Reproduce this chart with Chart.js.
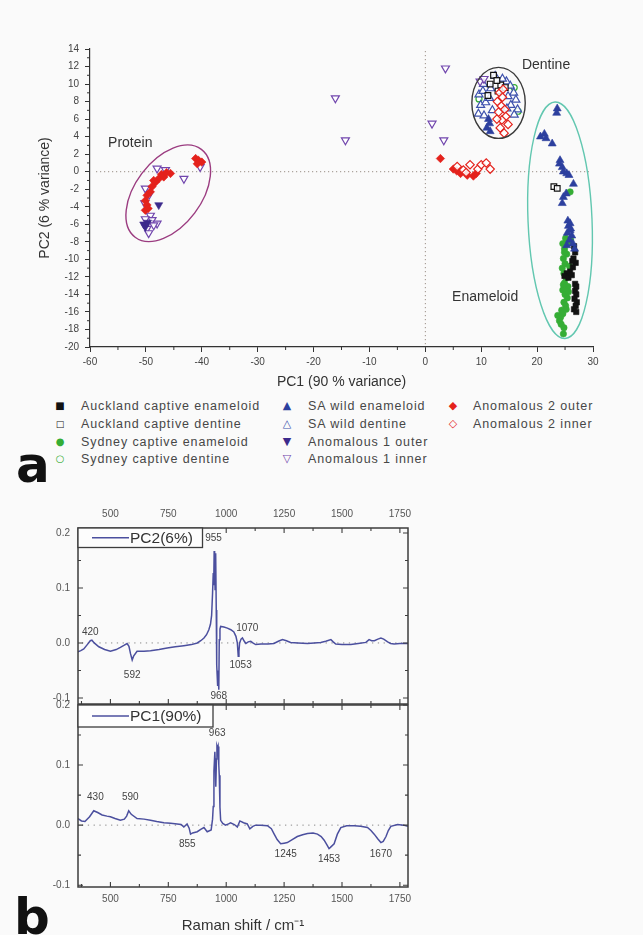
<!DOCTYPE html>
<html><head><meta charset="utf-8">
<script src="https://cdn.jsdelivr.net/npm/chart.js@4.4.0/dist/chart.umd.min.js"></script>
<style>
html,body{margin:0;padding:0;background:#fafafa;}
body{width:643px;height:935px;position:relative;overflow:hidden;font-family:"Liberation Sans",Arial,sans-serif;}
canvas{position:absolute;left:0;}
#c1{top:0;} #c2{top:495px;} #c3{top:700px;}
.leg{position:absolute;font-size:12.5px;letter-spacing:0.9px;color:#474747;white-space:nowrap;line-height:16px;}
.mk{position:absolute;font-family:"DejaVu Sans";font-size:11px;line-height:16px;width:16px;text-align:center;}
.panel{position:absolute;font-weight:bold;font-family:"DejaVu Sans";font-size:50px;line-height:50px;color:#111;}
</style></head><body>
<canvas id="c1" width="643" height="392"></canvas>
<canvas id="c2" width="643" height="215"></canvas>
<canvas id="c3" width="643" height="235"></canvas>
<div class="panel" style="left:16px;top:440px;">a</div>
<div class="panel" style="left:14px;top:892px;">b</div>
<div id="legend"></div>
<script>
// ---------- Scatter (PCA scores) data ----------
const pc1Ticks = [-60,-50,-40,-30,-20,-10,0,10,20,30];
const pc2Ticks = [14,12,10,8,6,4,2,0,-2,-4,-6,-8,-10,-12,-14,-16,-18,-20];

const seriesNames = [
  'Auckland captive enameloid','Auckland captive dentine','Sydney captive enameloid','Sydney captive dentine',
  'SA wild enameloid','SA wild dentine','Anomalous 1 outer','Anomalous 1 inner',
  'Anomalous 2 outer','Anomalous 2 inner'
];

const aklEnamX = [26.6,26.8,26.5,26.9,26.4,25.9,25.3,24.9,25.6,26.2,26.8,27.0,26.7,27.1,26.9,26.6,27.0,26.8,26.3,27.0];
const aklEnamY = [-8.5,-9.2,-9.9,-10.4,-10.9,-11.4,-11.6,-11.9,-12.1,-11.8,-13.6,-14.0,-14.5,-14.9,-15.3,-15.7,-16.0,-12.8,-10.2,-13.1];

const aklDentX = [12.2,11.6,13.5,14.3,11.2,13.0,12.8,23.0,23.6];
const aklDentY = [11.0,10.0,9.9,9.6,8.7,9.2,10.4,-1.7,-1.9];

const sydEnamX = [25.9,25.1,24.6,24.9,25.3,24.7,25.0,24.5,24.8,25.2,24.9,25.5,24.6,25.0,25.4,24.8,25.1,24.4,24.6,24.2,24.0,23.7,24.3,24.8,24.7,24.7,25.6,25.8,24.9,25.2,25.6,26.0];
const sydEnamY = [-2.3,-7.6,-8.2,-8.8,-9.4,-9.9,-10.5,-11.0,-11.6,-12.1,-12.7,-13.1,-13.5,-14.0,-14.4,-14.9,-15.3,-15.8,-16.2,-16.6,-17.0,-16.4,-17.4,-17.8,-18.5,-12.9,-13.7,-10.8,-9.2,-15.7,-8.0,-7.8];

const sydDentX = [9.6,16.6,15.9];
const sydDentY = [8.3,6.9,9.6];

const saEnamX = [11.3,11.5,11.0,11.6,23.6,23.5,20.6,21.3,21.6,22.7,24.1,24.0,24.5,24.7,25.3,25.7,26.5,24.7,25.2,24.5,25.5,25.6,25.9,25.4,26.2,25.8,26.4,25.3,26.7,25.9,26.0];
const saEnamY = [6.0,5.5,5.0,4.6,7.2,6.7,4.0,4.3,3.8,3.2,1.3,0.9,0.5,0.0,-0.2,-0.4,-1.4,-2.9,-2.5,-3.6,-5.6,-6.2,-6.7,-7.0,-7.3,-7.8,-8.2,-8.4,-8.8,-5.9,-6.5];

const saDentX = [9.6,10.3,9.9,10.8,11.5,9.5,10.5,12.0,11.7,14.5,15.2,15.8,14.8,16.2,15.3,16.5,14.6,15.9,13.8,12.5,10.4];
const saDentY = [8.8,9.2,7.6,7.9,8.4,6.6,6.4,7.0,9.5,10.3,9.8,9.0,8.6,8.2,7.6,7.1,7.2,6.5,10.6,10.9,10.0];

const an1OutX = [-47.7,-50.1,-50.4,-49.7];
const an1OutY = [-3.8,-6.3,-6.0,-5.8];

const an1InX = [-16.1,-14.3,3.6,1.2,3.3,9.8,10.5,-40.3,-43.2,-48.0,-46.5,-50.1,-49.4,-50.2,-49.2,-48.9,-48.0,-49.8,-50.1,-49.5,-48.6];
const an1InY = [8.4,3.6,11.8,5.5,3.6,10.3,10.6,0.55,-0.8,0.37,0.2,-1.9,-2.6,-3.6,-5.0,-5.5,-5.9,-6.5,-5.4,-7.0,-6.1];

const an2OutX = [-45.6,-46.8,-47.7,-48.3,-48.9,-49.2,-49.8,-50.1,-49.8,-50.1,-49.6,-47.2,-46.3,-48.6,-41.1,-40.6,-40.0,-40.8,2.7,5.0,5.6,6.3,7.5,8.6,9.1];
const an2OutY = [-0.2,-0.6,-0.8,-1.2,-1.7,-2.3,-2.7,-3.3,-3.8,-4.4,-4.2,-0.3,-0.1,-1.0,1.5,1.3,1.1,0.9,1.5,0.3,0.1,-0.2,-0.4,-0.5,-0.2];

const an2InX = [5.7,6.8,8.0,9.4,10.0,10.9,11.6,7.3,13.3,13.8,12.9,13.6,14.2,13.1,14.4,13.7,14.8,13.4,14.1,12.8,13.9];
const an2InY = [0.6,0.2,0.8,0.3,0.8,1.0,0.3,-0.1,9.0,8.5,8.0,7.5,7.1,6.8,6.3,5.9,5.4,5.0,4.4,6.0,9.4];

const groupLabels = ['Protein','Dentine','Enameloid'];

// ---------- Spectra (loadings) data ----------
const ramanTicks = [500,750,1000,1250,1500,1750];
const loadTicks = [-0.1,0.0,0.1,0.2];

const pc2Shift = [360,372,385,400,413,420,430,450,475,500,
  525,543,560,572,580,587,594,600,615,645,
  673,710,745,780,817,850,875,890,904,915,
  925,932,937,941,944,946,948,950,952,954,
  955,957,958,960,963,965,968,970,973,976,
  990,1005,1020,1033,1042,1048,1052,1055,1058,1064,
  1070,1078,1085,1095,1106,1115,1127,1150,1180,1206,
  1225,1243,1260,1278,1310,1351,1380,1408,1430,1452,
  1462,1473,1500,1538,1570,1603,1617,1628,1640,1655,
  1668,1680,1697,1710,1725,1750,1770,1785];
const pc2Load = [-0.016,-0.014,-0.011,-0.003,0.004,0.005,0.000,-0.007,-0.012,-0.015,
  -0.012,-0.008,-0.004,-0.001,-0.006,-0.020,-0.031,-0.024,-0.015,-0.015,
  -0.014,-0.012,-0.009,-0.007,-0.005,-0.003,0.000,0.004,0.009,0.015,
  0.024,0.034,0.050,0.090,0.127,0.105,0.167,0.140,0.097,0.150,
  0.163,0.060,-0.012,-0.040,-0.078,-0.050,-0.085,0.006,0.025,0.030,
  0.029,0.027,0.024,0.020,0.012,0.000,-0.024,-0.015,0.000,0.007,
  0.009,0.003,-0.001,0.002,0.003,0.000,-0.003,-0.002,-0.002,-0.001,
  0.003,0.006,0.004,0.001,0.000,-0.001,0.000,0.001,0.003,0.006,
  0.002,-0.002,-0.003,-0.003,-0.001,0.001,0.006,0.004,0.004,0.007,
  0.009,0.007,0.002,-0.001,-0.002,-0.001,-0.001,-0.001];

const pc1Shift = [360,375,390,410,428,445,464,485,500,520,
  543,560,570,579,590,615,645,673,700,731,
  760,788,805,817,831,840,846,855,875,890,
  904,912,918,935,941,944,947,951,953,955,
  958,960,963,965,968,970,973,976,985,997,
  1010,1019,1035,1048,1059,1075,1091,1102,1115,1127,
  1150,1178,1195,1206,1220,1235,1250,1264,1285,1307,
  1330,1351,1375,1394,1410,1423,1435,1444,1450,1466,
  1480,1495,1520,1553,1580,1610,1625,1639,1655,1668,
  1678,1690,1700,1711,1740,1765,1785];
const pc1Load = [0.011,0.007,0.006,0.014,0.024,0.021,0.017,0.015,0.014,0.011,
  0.008,0.010,0.015,0.024,0.018,0.011,0.010,0.008,0.006,0.004,
  0.003,0.002,0.001,-0.003,0.002,-0.005,-0.015,-0.013,-0.011,-0.007,
  -0.004,-0.008,-0.011,-0.008,0.010,0.031,0.090,0.122,0.100,0.064,
  0.110,0.132,0.128,0.131,0.100,0.083,0.030,0.008,0.003,0.000,
  0.002,0.004,0.001,-0.003,0.007,0.004,0.002,-0.006,-0.002,0.000,
  0.000,-0.001,-0.006,-0.014,-0.024,-0.031,-0.030,-0.029,-0.024,-0.019,
  -0.016,-0.014,-0.013,-0.015,-0.019,-0.025,-0.033,-0.039,-0.037,-0.031,
  -0.015,-0.004,-0.001,-0.001,-0.002,-0.004,-0.009,-0.015,-0.023,-0.029,
  -0.027,-0.019,-0.009,-0.002,0.001,0.000,-0.002];

const pc2PeakText = ['955','420','592','968','1070','1053'];
const pc1PeakText = ['963','430','590','855','1245','1453','1670'];

// ---------- styles / layout ----------
const FONT = '"Liberation Sans", Arial, sans-serif';
const pts = (xs, ys) => xs.map((x, i) => ({x, y: ys[i]}));
const C = {black:'#121212', green:'#35ad35', blue:'#2c3f9e', blueOpen:'#3e52ad', purple:'#3c2a8c', purpleOpen:'#7146ad', red:'#e4221c'};

const seriesStyle = [
  {xs:aklEnamX, ys:aklEnamY, style:'rect', color:C.black, fill:true, r:3.8, order:3, glyph:'\u25A0', gs:10},
  {xs:aklDentX, ys:aklDentY, style:'rect', color:C.black, fill:false, r:4, order:2, glyph:'\u25A1', gs:9},
  {xs:sydEnamX, ys:sydEnamY, style:'circle', color:C.green, fill:true, r:3.2, order:6, glyph:'\u25CF', gs:10},
  {xs:sydDentX, ys:sydDentY, style:'circle', color:C.green, fill:false, r:3, order:7, glyph:'\u25CB', gs:10},
  {xs:saEnamX, ys:saEnamY, style:'triangle', color:C.blue, fill:true, r:4.6, order:1, glyph:'\u25B2', gs:11},
  {xs:saDentX, ys:saDentY, style:'triangle', color:C.blueOpen, fill:false, r:4.6, order:4, glyph:'\u25B3', gs:11},
  {xs:an1OutX, ys:an1OutY, style:'triangle', rot:180, color:C.purple, fill:true, r:4.6, order:2, glyph:'\u25BC', gs:11},
  {xs:an1InX, ys:an1InY, style:'triangle', rot:180, color:C.purpleOpen, fill:false, r:4.6, order:3, glyph:'\u25BD', gs:11},
  {xs:an2OutX, ys:an2OutY, style:'rectRot', color:C.red, fill:true, r:4.2, order:1, glyph:'\u25C6', gs:11},
  {xs:an2InX, ys:an2InY, style:'rectRot', color:C.red, fill:false, r:4.2, order:0, glyph:'\u25C7', gs:11}
];

const ellipses = [
  {cx:-46.0, cy:-2.46, rx:55, ry:33, rot:-0.925, color:'#9b3c80'},
  {cx:13.1, cy:7.85, rx:26.7, ry:35.5, rot:0, color:'#3a3a3a'},
  {cx:24.1, cy:-5.54, rx:32, ry:118.3, rot:-0.042, color:'#62c7b0'}
];
const groupLabelPos = [{x:-52.8, y:3.3}, {x:21.6, y:12.2}, {x:10.7, y:-14.3}];

const datasets = seriesStyle.map((s, i) => ({
  label: seriesNames[i],
  data: pts(s.xs, s.ys),
  pointStyle: s.style,
  rotation: s.rot || 0,
  pointRadius: s.r,
  pointBorderWidth: s.fill ? 0.6 : 1.2,
  pointBorderColor: s.color,
  pointBackgroundColor: s.fill ? s.color : 'rgba(255,255,255,0.85)',
  order: s.order
}));

const scatterDecor = {
  id: 'scatterDecor',
  beforeDatasetsDraw(chart) {
    const {ctx, chartArea: a, scales: {x, y}} = chart;
    ctx.save();
    ctx.strokeStyle = '#9a8e86'; ctx.lineWidth = 1; ctx.setLineDash([1.2, 2.8]);
    const x0 = x.getPixelForValue(0), y0 = y.getPixelForValue(0);
    ctx.beginPath();
    ctx.moveTo(x0, a.top + 2); ctx.lineTo(x0, a.bottom);
    ctx.moveTo(a.left + 6, y0); ctx.lineTo(a.right - 4, y0);
    ctx.stroke();
    ctx.restore();
  },
  afterDatasetsDraw(chart) {
    const {ctx, chartArea: a, scales: {x, y}} = chart;
    ctx.save();
    ellipses.forEach(e => {
      ctx.beginPath();
      ctx.ellipse(x.getPixelForValue(e.cx), y.getPixelForValue(e.cy), e.rx, e.ry, e.rot, 0, Math.PI * 2);
      ctx.strokeStyle = e.color; ctx.lineWidth = 1.4; ctx.stroke();
    });
    ctx.fillStyle = '#333'; ctx.font = '14px ' + FONT; ctx.textAlign = 'center'; ctx.textBaseline = 'middle';
    groupLabels.forEach((t, i) => ctx.fillText(t, x.getPixelForValue(groupLabelPos[i].x), y.getPixelForValue(groupLabelPos[i].y)));
    // minor ticks
    ctx.strokeStyle = '#333'; ctx.lineWidth = 1;
    ctx.beginPath();
    for (let v = -55; v < 30; v += 10) { const px = x.getPixelForValue(v); ctx.moveTo(px, a.bottom); ctx.lineTo(px, a.bottom + 3); }
    for (let v = -19; v < 14; v += 2) { const py = y.getPixelForValue(v); ctx.moveTo(a.left, py); ctx.lineTo(a.left - 3, py); }
    ctx.stroke();
    ctx.restore();
  }
};

new Chart(document.getElementById('c1'), {
  type: 'scatter',
  data: {datasets},
  options: {
    responsive: false, animation: false,
    layout: {padding: {top: 49, right: 50, left: 0, bottom: 0}, autoPadding: false},
    plugins: {legend: {display: false}, tooltip: {enabled: false}},
    scales: {
      x: {
        type: 'linear', min: -60, max: 30,
        afterBuildTicks: s => { s.ticks = pc1Ticks.map(v => ({value: v})); },
        grid: {display: true, drawOnChartArea: false, drawTicks: true, tickLength: 5, color: '#333'},
        border: {display: true, color: '#333', width: 1.2},
        ticks: {font: {size: 10, family: FONT}, color: '#444', padding: 4, maxRotation: 0, autoSkip: false},
        title: {display: true, text: 'PC1 (90 % variance)', font: {size: 14, family: FONT}, color: '#333', padding: {top: 2, bottom: 1}},
        afterFit: s => { s.height = 45; }
      },
      y: {
        type: 'linear', min: -20, max: 14,
        afterBuildTicks: s => { s.ticks = pc2Ticks.map(v => ({value: v})); },
        grid: {display: true, drawOnChartArea: false, drawTicks: true, tickLength: 5, color: '#333'},
        border: {display: true, color: '#333', width: 1.2},
        ticks: {font: {size: 10, family: FONT}, color: '#444', padding: 6, autoSkip: false},
        title: {display: true, text: 'PC2 (6 % variance)', font: {size: 14, family: FONT}, color: '#333', padding: {top: 37, bottom: 0}},
        afterFit: s => { s.width = 90; }
      }
    }
  },
  plugins: [scatterDecor]
});

// ---------- legend (HTML text) ----------
const legCols = [[0,1,2,3],[4,5,6,7],[8,9]];
const legMarkX = [52, 279, 445];
const legTextX = [81, 308, 473];
const legRowY = [398, 416, 433.5, 451];
const legEl = document.getElementById('legend');
legCols.forEach((col, ci) => col.forEach((si, ri) => {
  const s = seriesStyle[si];
  const m = document.createElement('div');
  m.className = 'mk'; m.textContent = s.glyph; m.style.color = s.color; m.style.fontSize = s.gs + 'px';
  m.style.left = legMarkX[ci] + 'px'; m.style.top = legRowY[ri] + 'px';
  legEl.appendChild(m);
  const t = document.createElement('div');
  t.className = 'leg'; t.textContent = seriesNames[si];
  t.style.left = legTextX[ci] + 'px'; t.style.top = legRowY[ri] + 'px';
  legEl.appendChild(t);
}));

// ---------- spectra ----------
const specFrame = {
  id: 'specFrame',
  beforeDatasetsDraw(chart) {
    const {ctx, chartArea: a, scales: {y}} = chart;
    const y0 = y.getPixelForValue(0);
    ctx.save();
    ctx.strokeStyle = '#8a8a8a'; ctx.lineWidth = 1; ctx.setLineDash([1.3, 4.5]);
    ctx.beginPath(); ctx.moveTo(a.left + 4, y0); ctx.lineTo(a.right - 4, y0); ctx.stroke();
    ctx.restore();
  },
  afterDraw(chart, args, o) {
    const {ctx, chartArea: a, scales: {x, y}} = chart;
    ctx.save();
    ctx.strokeStyle = '#3d3d3d'; ctx.lineWidth = 1.5;
    ctx.strokeRect(a.left, a.top, a.right - a.left, a.bottom - a.top);
    ctx.lineWidth = 1.1;
    ctx.beginPath();
    for (let v = 375; v <= 1785; v += 125) {
      const L = (v - 500) % 250 === 0 ? 5 : 3;
      const px = x.getPixelForValue(v);
      ctx.moveTo(px, a.top); ctx.lineTo(px, a.top + L);
      ctx.moveTo(px, a.bottom); ctx.lineTo(px, a.bottom - L);
    }
    for (let k = -2; k <= 4; k++) {
      const v = k * 0.05;
      if (v < y.min - 1e-9 || v > y.max + 1e-9) continue;
      const L = k % 2 === 0 ? 5 : 3;
      const py = y.getPixelForValue(v);
      ctx.moveTo(a.left, py); ctx.lineTo(a.left + L, py);
      ctx.moveTo(a.right, py); ctx.lineTo(a.right - L, py);
    }
    ctx.stroke();
    // legend box
    ctx.lineWidth = 1.3; ctx.strokeStyle = '#3d3d3d';
    ctx.fillStyle = '#fdfdfd';
    ctx.fillRect(a.left, a.top, o.boxW, o.boxH);
    ctx.strokeRect(a.left, a.top, o.boxW, o.boxH);
    const ly = a.top + o.boxH / 2;
    ctx.strokeStyle = '#4b4f9e'; ctx.lineWidth = 1.4;
    ctx.beginPath(); ctx.moveTo(a.left + 14, ly); ctx.lineTo(a.left + 51, ly); ctx.stroke();
    ctx.fillStyle = '#333'; ctx.font = '15.5px ' + FONT; ctx.textBaseline = 'middle'; ctx.textAlign = 'left';
    ctx.fillText(o.legend, a.left + 52, ly + 0.5);
    // peak labels
    ctx.fillStyle = '#444'; ctx.font = '10px ' + FONT; ctx.textAlign = 'center';
    o.peaks.forEach((t, i) => ctx.fillText(t, x.getPixelForValue(o.peakPos[i][0]), y.getPixelForValue(o.peakPos[i][1])));
    ctx.restore();
  }
};

function makeSpec(id, xs, ys, cfg) {
  return new Chart(document.getElementById(id), {
    type: 'line',
    data: {datasets: [{data: pts(xs, ys), borderColor: '#4b4f9e', borderWidth: 1.5, pointRadius: 0, tension: 0, fill: false}]},
    options: {
      responsive: false, animation: false,
      layout: {padding: cfg.padding, autoPadding: false},
      plugins: {legend: {display: false}, tooltip: {enabled: false}, specFrame: cfg.frame},
      scales: {
        x: {
          type: 'linear', position: cfg.xPos, min: 360, max: 1785,
          afterBuildTicks: s => { s.ticks = ramanTicks.map(v => ({value: v})); },
          grid: {display: false, drawTicks: false}, border: {display: false},
          ticks: {font: {size: 10, family: FONT}, color: '#555', padding: cfg.xPad, maxRotation: 0, autoSkip: false, callback: v => String(v)},
          title: cfg.xTitle ? {display: true, text: cfg.xTitle, font: {size: 15, family: FONT}, color: '#333', padding: {top: 4, bottom: 0}} : {display: false},
          afterFit: s => { s.height = cfg.xHeight; s.paddingLeft = 0; s.paddingRight = 0; }
        },
        y: {
          type: 'linear', min: cfg.ymin, max: cfg.ymax,
          afterBuildTicks: s => { s.ticks = loadTicks.map(v => ({value: v})); },
          grid: {display: false, drawTicks: false}, border: {display: false},
          ticks: {font: {size: 10, family: FONT}, color: '#555', padding: 8, autoSkip: false, callback: v => v.toFixed(1)},
          afterFit: s => { s.width = 78; s.paddingTop = 0; s.paddingBottom = 0; }
        }
      }
    },
    plugins: [specFrame]
  });
}

makeSpec('c2', pc2Shift, pc2Load, {
  padding: {top: 0, right: 235, bottom: 6, left: 0}, xPos: 'top', xPad: 8, xHeight: 33,
  ymin: -0.111, ymax: 0.209,
  frame: {legend: 'PC2(6%)', boxW: 124.5, boxH: 19.5, peaks: pc2PeakText,
    peakPos: [[945,0.19],[413,0.02],[594,-0.058],[968,-0.096],[1091,0.027],[1062,-0.040]]}
});
makeSpec('c3', pc1Shift, pc1Load, {
  padding: {top: 5, right: 235, bottom: 0, left: 0}, xPos: 'bottom', xPad: 6, xHeight: 48,
  ymin: -0.103, ymax: 0.2, xTitle: 'Raman shift / cm\u207B\u00B9',
  frame: {legend: 'PC1(90%)', boxW: 135, boxH: 22, peaks: pc1PeakText,
    peakPos: [[961,0.153],[435,0.047],[586,0.047],[832,-0.032],[1257,-0.048],[1444,-0.056],[1668,-0.048]]}
});
</script>
</body></html>
